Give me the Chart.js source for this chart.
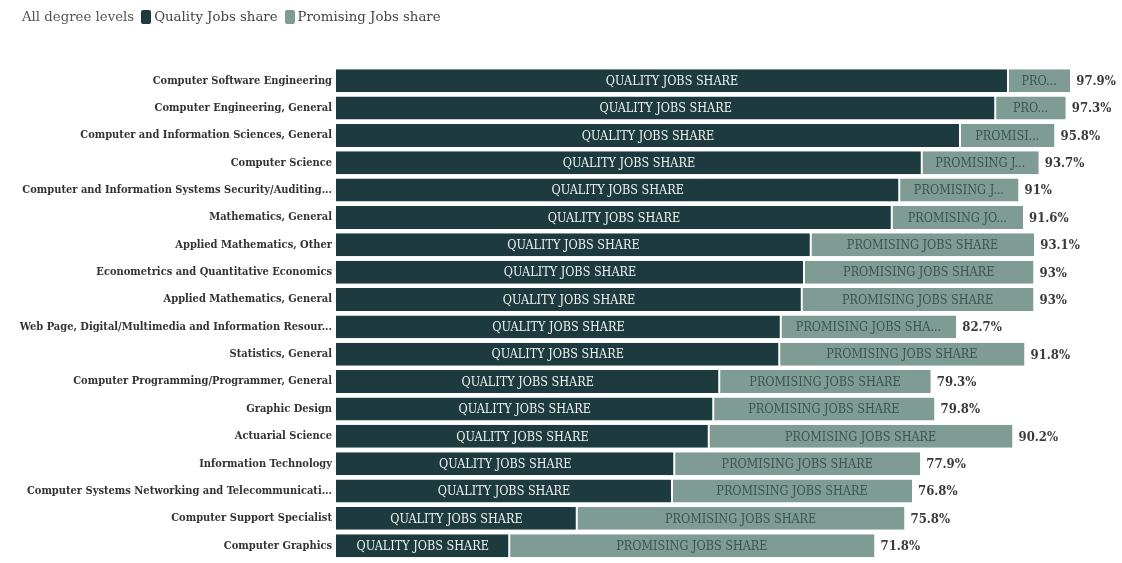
<!DOCTYPE html>
<html>
<head>
<meta charset="utf-8">
<script src="https://cdn.jsdelivr.net/npm/chart.js@4/dist/chart.umd.min.js"></script>
<style>
  html, body { margin: 0; padding: 0; background: #fff; overflow: hidden; }
  #wrap { position: relative; width: 1122px; height: 570px; }
  #legend {
    position: absolute; left: 22px; top: 9px;
    font: 13.3px "DejaVu Serif", serif;
    color: #444; display: flex; align-items: center; white-space: nowrap;
  }
  #legend .title { color: #555; margin-right: 7px; }
  #legend .box { display: inline-block; width: 10px; height: 14px; border-radius: 2px; margin-right: 3px; }
  #legend .item { display: inline-flex; align-items: center; margin-right: 7px; }
</style>
</head>
<body>
<div id="wrap">
  <div id="legend"></div>
  <canvas id="myChart" width="1122" height="570"></canvas>
</div>
<script>
const categories = [
  "Computer Software Engineering",
  "Computer Engineering, General",
  "Computer and Information Sciences, General",
  "Computer Science",
  "Computer and Information Systems Security/Auditing...",
  "Mathematics, General",
  "Applied Mathematics, Other",
  "Econometrics and Quantitative Economics",
  "Applied Mathematics, General",
  "Web Page, Digital/Multimedia and Information Resour...",
  "Statistics, General",
  "Computer Programming/Programmer, General",
  "Graphic Design",
  "Actuarial Science",
  "Information Technology",
  "Computer Systems Networking and Telecommunicati...",
  "Computer Support Specialist",
  "Computer Graphics"
];

const qualityShare = [89.6, 87.9, 83.2, 78.1, 75.1, 74.1, 63.3, 62.4, 62.1, 59.3, 59.1, 51.1, 50.3, 49.7, 45.1, 44.8, 32.1, 23.1];
const promisingShare = [8.3, 9.4, 12.6, 15.6, 15.9, 17.5, 29.8, 30.6, 30.9, 23.4, 32.7, 28.2, 29.5, 40.5, 32.8, 32.0, 43.7, 48.7];

const seriesNames = ["Quality Jobs share", "Promising Jobs share"];
const seriesColors = ["#1d3b3e", "#7e9c93"];
const segmentTextColors = ["#eef2f1", "#3b5452"];

const FONT = '"DejaVu Serif Condensed", "DejaVu Serif", serif';

// legend, built from the dataset names and colours
const legendEl = document.getElementById("legend");
legendEl.innerHTML = '<span class="title">All degree levels</span>' +
  seriesNames.map((n, i) =>
    `<span class="item"><span class="box" style="background:${seriesColors[i]}"></span>${n}</span>`
  ).join("");

function fitText(ctx, text, maxW) {
  if (ctx.measureText(text).width <= maxW) return text;
  let t = text;
  while (t.length > 0 && ctx.measureText(t + "...").width > maxW) {
    t = t.slice(0, -1);
  }
  return t.length ? t + "..." : "";
}

function fmtTotal(v) {
  const r = Math.round(v * 10) / 10;
  return (r % 1 === 0 ? r.toFixed(0) : r.toFixed(1)) + "%";
}

const barLabels = {
  id: "barLabels",
  afterDatasetsDraw(chart) {
    const ctx = chart.ctx;
    ctx.save();
    ctx.textBaseline = "middle";
    chart.data.datasets.forEach((ds, i) => {
      const meta = chart.getDatasetMeta(i);
      ctx.font = "12.5px " + FONT;
      ctx.fillStyle = segmentTextColors[i];
      ctx.textAlign = "center";
      meta.data.forEach((bar) => {
        const p = bar.getProps(["x", "base", "y"], true);
        const w = Math.abs(p.x - p.base);
        const txt = fitText(ctx, ds.label.toUpperCase(), w - 26);
        if (txt) ctx.fillText(txt, (p.x + p.base) / 2, p.y + 1);
      });
    });
    // totals at the end of each stacked bar
    const last = chart.getDatasetMeta(chart.data.datasets.length - 1);
    ctx.font = "bold 13px " + FONT;
    ctx.fillStyle = "#3a3a3a";
    ctx.textAlign = "left";
    last.data.forEach((bar, j) => {
      const p = bar.getProps(["x", "y"], true);
      const total = qualityShare[j] + promisingShare[j];
      ctx.fillText(fmtTotal(total), p.x + 6, p.y + 1);
    });
    ctx.restore();
  }
};

const ctx = document.getElementById("myChart");

new Chart(ctx, {
  type: "bar",
  data: {
    labels: categories,
    datasets: [
      {
        label: seriesNames[0],
        data: qualityShare,
        backgroundColor: seriesColors[0],
        borderColor: "#ffffff",
        borderWidth: { right: 1 },
        borderSkipped: false
      },
      {
        label: seriesNames[1],
        data: promisingShare,
        backgroundColor: seriesColors[1],
        borderColor: "#ffffff",
        borderWidth: { left: 1 },
        borderSkipped: false
      }
    ]
  },
  options: {
    indexAxis: "y",
    responsive: false,
    animation: false,
    barPercentage: 1,
    categoryPercentage: 0.84,
    layout: { padding: { top: 67, right: 36, bottom: 4, left: 0 } },
    plugins: {
      legend: { display: false },
      tooltip: { enabled: false }
    },
    scales: {
      x: {
        stacked: true,
        min: 0,
        max: 100,
        display: false
      },
      y: {
        stacked: true,
        grid: { display: false, drawTicks: false },
        border: { display: false },
        ticks: {
          color: "#333",
          padding: 4,
          font: { family: FONT, size: 11, weight: "bold" }
        },
        afterFit(scale) { scale.width = 336; }
      }
    }
  },
  plugins: [barLabels]
});
</script>
</body>
</html>
